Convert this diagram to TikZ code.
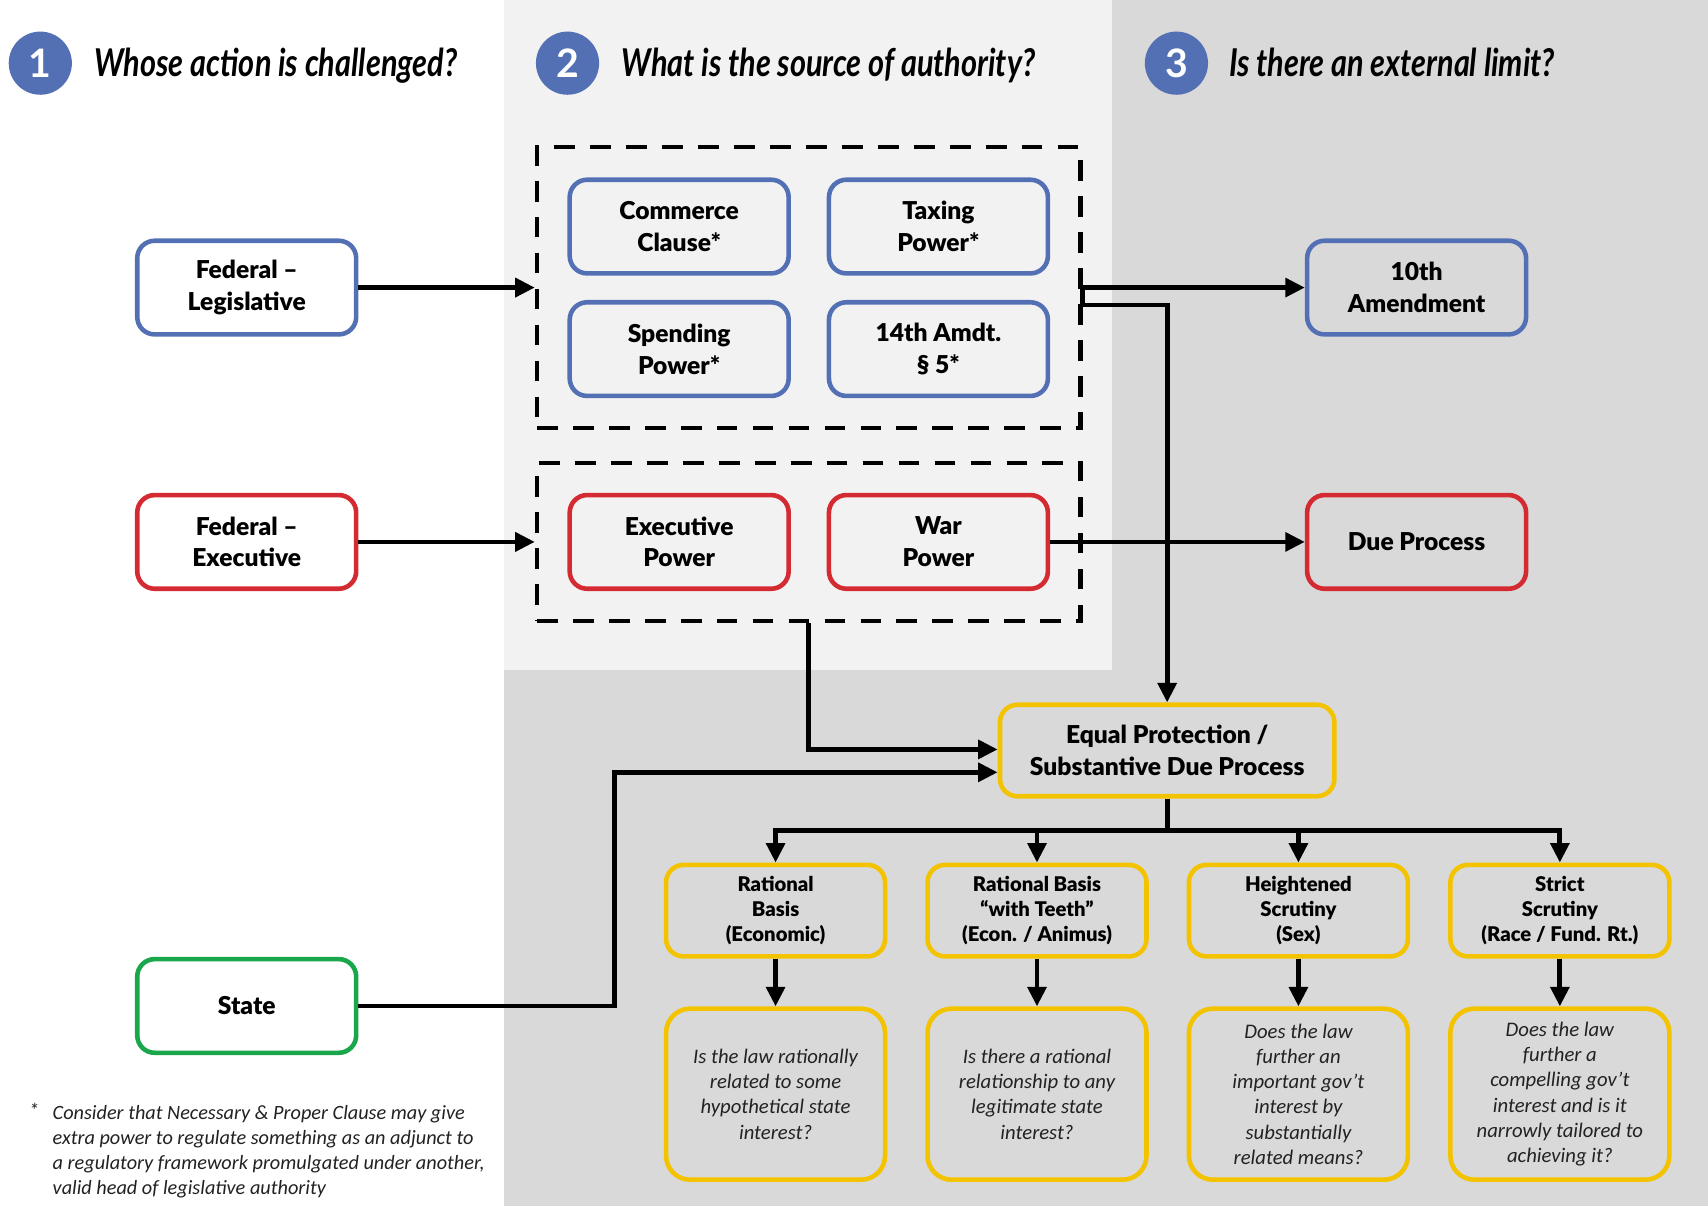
\documentclass[tikz,border=0pt]{standalone}
\usepackage{fontspec}
\setmainfont{Lato}
\newfontfamily\labelfont{Lato Black}
\newfontfamily\headfont{Lato}[FakeStretch=0.8]
\newfontfamily\notefont{Carlito}
\usetikzlibrary{arrows.meta}

\definecolor{panelA}{HTML}{F2F2F2}
\definecolor{panelB}{HTML}{D9D9D9}
\definecolor{fedblue}{HTML}{5470B5}
\definecolor{execred}{HTML}{D42A31}
\definecolor{stategreen}{HTML}{1AA64B}
\definecolor{scrutyellow}{HTML}{F4C300}
\definecolor{inktext}{HTML}{222222}

\begin{document}
\begin{tikzpicture}[x=0.5pt,y=-0.5pt,
  box/.style={draw, line width=2.1pt, rounded corners=8pt,
    minimum width=100.5pt, minimum height=43pt, inner sep=2pt,
    align=center, font=\labelfont\fontsize{11.3}{14.5}\selectfont},
  bluebox/.style={box, draw=fedblue},
  redbox/.style={box, draw=execred},
  greenbox/.style={box, draw=stategreen},
  yellowbox/.style={box, draw=scrutyellow},
  tierbox/.style={yellowbox, minimum height=42pt,
    font=\labelfont\fontsize{9.3}{11.5}\selectfont},
  qbox/.style={draw=scrutyellow, line width=2.1pt, rounded corners=11pt,
    minimum width=100.5pt, minimum height=78.5pt, inner sep=2pt,
    align=center, text=inktext,
    font=\notefont\itshape\fontsize{9.5}{11.6}\selectfont},
  groupbox/.style={draw, line width=2pt, dash pattern=on 9.5pt off 7pt,
    inner sep=0pt},
  badge/.style={circle, fill=fedblue, minimum size=29pt, inner sep=0pt,
    text=white, font=\bfseries\fontsize{18}{18}\selectfont},
  heading/.style={anchor=base west, inner sep=0pt,
    font=\headfont\bfseries\itshape\fontsize{17.6}{20}\selectfont},
  conn/.style={line width=2.2pt, -{Triangle[length=9pt,width=8.5pt]}},
  plain/.style={line width=2.2pt}
]
\useasboundingbox (0,0) rectangle (1568,1107);

% background bands
\fill[white] (0,0) rectangle (1568,1107);
\fill[panelB] (463,0) rectangle (1568,1107);
\fill[panelA] (463,0) rectangle (1021,615);

% column headings
\node[badge] (b1) at (37,58) {1};
\node[badge] (b2) at (521,58) {2};
\node[badge] (b3) at (1080,58) {3};
\node[heading] (h1) at (86,70.5) {Whose action is challenged?};
\node[heading] (h2) at (570,70.5) {What is the source of authority?};
\node[heading] (h3) at (1128,70.5) {Is there an external limit?};

% actors
\node[bluebox] (fedleg) at (226.5,264) {Federal –\\Legislative};
\node[redbox] (fedexec) at (226.5,497.5) {Federal –\\Executive};
\node[greenbox] (state) at (226.5,923.5) {State};

% sources of authority
\node[groupbox, minimum width=249.5pt, minimum height=129pt] (legbox) at (742.5,264) {};
\node[groupbox, minimum width=249.5pt, minimum height=72.5pt] (execbox) at (742.5,497.5) {};
\node[bluebox] (commerce) at (623.5,208) {Commerce\\Clause*};
\node[bluebox] (taxing) at (861.5,208) {Taxing\\Power*};
\node[bluebox] (spending) at (623.5,320.5) {Spending\\Power*};
\node[bluebox] (amdt) at (861.5,320.5) {14th Amdt.\\§ 5*};
\node[redbox] (execpower) at (623.5,497.5) {Executive\\Power};
\node[redbox] (war) at (861.5,497.5) {War\\Power};

% external limits
\node[bluebox] (tenth) at (1300.5,264) {10th\\Amendment};
\node[redbox] (dueproc) at (1300.5,497.5) {Due Process};
\node[yellowbox, minimum width=153.5pt, minimum height=42pt] (ep) at (1071.5,689)
  {Equal Protection /\\Substantive Due Process};

% tiers of scrutiny
\node[tierbox] (t1) at (712,836) {Rational\\Basis\\(Economic)};
\node[tierbox] (t2) at (952,836) {Rational Basis\\“with Teeth”\\(Econ. / Animus)};
\node[tierbox] (t3) at (1192,836) {Heightened\\Scrutiny\\(Sex)};
\node[tierbox] (t4) at (1432,836) {Strict\\Scrutiny\\(Race / Fund. Rt.)};

\node[qbox] (q1) at (712,1004.5) {Is the law rationally\\related to some\\hypothetical state\\interest?};
\node[qbox] (q2) at (952,1004.5) {Is there a rational\\relationship to any\\legitimate state\\interest?};
\node[qbox] (q3) at (1192,1004.5) {Does the law\\further an\\important gov’t\\interest by\\substantially\\related means?};
\node[qbox] (q4) at (1432,1004.5) {Does the law\\further a\\compelling gov’t\\interest and is it\\narrowly tailored to\\achieving it?};

% connectors
\draw[conn] (fedleg.east) -- (legbox.west);
\draw[conn] (fedexec.east) -- (execbox.west);
\draw[conn] (legbox.east) -- (tenth.west);
\draw[conn] (legbox.east) -- ++(0,16) -| (ep.north);
\draw[conn] (war.east) -- (dueproc.west);
\draw[conn] (execbox.south) |- ([yshift=0.5pt]ep.west);
\draw[conn] (state.east) -- ++(235,0) |- ([yshift=-10pt]ep.west);
\draw[plain] (ep.south) -- ++(0,29) coordinate (bus);
\foreach \t in {t1,t2,t3,t4}{
  \draw[conn] (bus) -| (\t.north);
}
\draw[conn] (t1.south) -- (q1.north);
\draw[conn] (t2.south) -- (q2.north);
\draw[conn] (t3.south) -- (q3.north);
\draw[conn] (t4.south) -- (q4.north);

% footnote
\node[anchor=base west, inner sep=0pt, text=inktext,
  font=\notefont\itshape\fontsize{9.3}{11.5}\selectfont] (fnstar) at (26,1026) {*};
\node[anchor=north west, inner sep=0pt, align=left, text=inktext,
  font=\notefont\itshape\fontsize{9.3}{11.5}\selectfont] (fntext) at (48,1014)
  {Consider that Necessary \& Proper Clause may give\\
   extra power to regulate something as an adjunct to\\
   a regulatory framework promulgated under another,\\
   valid head of legislative authority};
\end{tikzpicture}
\end{document}
